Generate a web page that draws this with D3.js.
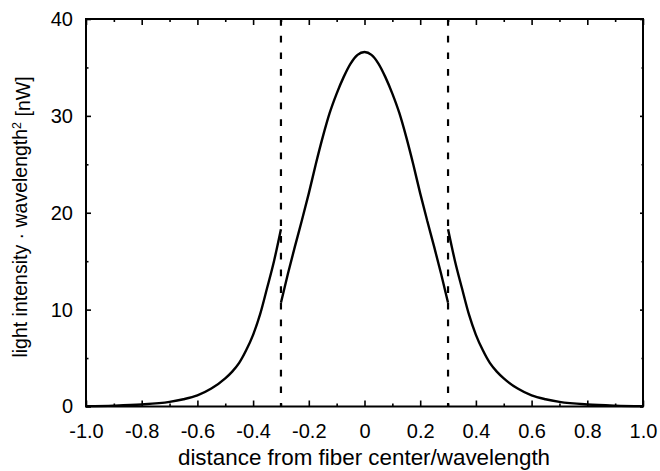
<!DOCTYPE html>
<meta charset="utf-8">
<script src="https://d3js.org/d3.v7.min.js"></script>
<style>
body { margin: 0; background: #fff; }
text { font-family: "Liberation Sans", Arial, sans-serif; fill: #000; }
</style>
<div id="chart"></div>
<script>
// values
var coreX = [-0.3, -0.275, -0.25, -0.225, -0.2, -0.175, -0.15, -0.125, -0.1, -0.075, -0.05, -0.025,
             0, 0.025, 0.05, 0.075, 0.1, 0.125, 0.15, 0.175, 0.2, 0.225, 0.25, 0.275, 0.3];
var coreY = [10.7, 13.7, 16.5, 19.2, 22.0, 25.0, 27.8, 30.3, 32.3, 34.0, 35.4, 36.3,
             36.6, 36.3, 35.4, 34.0, 32.3, 30.3, 27.8, 25.0, 22.0, 19.2, 16.5, 13.7, 10.7];
var cladLeftX = [-1.0, -0.9, -0.8, -0.7, -0.65, -0.6, -0.55, -0.5, -0.475, -0.45, -0.425, -0.4, -0.375, -0.35, -0.325, -0.3];
var cladLeftY = [0.04, 0.09, 0.21, 0.48, 0.75, 1.15, 1.85, 2.9, 3.6, 4.5, 5.8, 7.4, 9.5, 12.2, 15.0, 18.3];
var cladRightX = [0.3, 0.325, 0.35, 0.375, 0.4, 0.425, 0.45, 0.475, 0.5, 0.55, 0.6, 0.65, 0.7, 0.8, 0.9, 1.0];
var cladRightY = [18.3, 15.0, 12.2, 9.5, 7.4, 5.8, 4.5, 3.6, 2.9, 1.85, 1.15, 0.75, 0.48, 0.21, 0.09, 0.04];
var coreEdges = [-0.3, 0.3];
var xTickLabels = ["-1.0", "-0.8", "-0.6", "-0.4", "-0.2", "0", "0.2", "0.4", "0.6", "0.8", "1.0"];
var yTickLabels = ["0", "10", "20", "30", "40"];

var margin = {top: 19, right: 17, bottom: 64.5, left: 86},
    width = 660 - margin.left - margin.right,
    height = 471 - margin.top - margin.bottom;

var svg = d3.select("#chart")
  .append("svg")
    .attr("width", 660)
    .attr("height", 471)
  .append("g")
    .attr("transform", "translate(" + margin.left + "," + margin.top + ")");

var x = d3.scaleLinear().domain([-1, 1]).range([0, width]);
var y = d3.scaleLinear().domain([0, 40]).range([height, 0]);

var xMajor = d3.range(-1, 1.0001, 0.2);
var xMinor = d3.range(-0.9, 1, 0.2);
var yMajor = d3.range(0, 40.001, 10);
var yMinor = d3.range(5, 40, 10);

function tickAxis(axisFn, scale, values, size, labels) {
  return axisFn(scale)
    .tickValues(values)
    .tickSizeInner(size)
    .tickSizeOuter(0)
    .tickPadding(8)
    .tickFormat(labels ? function(d, i) { return labels[i]; } : "");
}

// bottom axis (ticks point inward)
var gb = svg.append("g").attr("transform", "translate(0," + height + ")");
gb.call(tickAxis(d3.axisBottom, x, xMajor, -6, xTickLabels));
gb.append("g").call(tickAxis(d3.axisBottom, x, xMinor, -3));
gb.selectAll("text").attr("y", 17).attr("dy", "0.71em").style("font-size", "20px");

// top axis
var gt = svg.append("g");
gt.call(tickAxis(d3.axisTop, x, xMajor, -6));
gt.append("g").call(tickAxis(d3.axisTop, x, xMinor, -3));

// left axis
var gl = svg.append("g");
gl.call(tickAxis(d3.axisLeft, y, yMajor, -5, yTickLabels));
gl.append("g").call(tickAxis(d3.axisLeft, y, yMinor, -2.5));
gl.selectAll("text").attr("x", -13).style("font-size", "20px");

// right axis
var gr = svg.append("g").attr("transform", "translate(" + width + ",0)");
gr.call(tickAxis(d3.axisRight, y, yMajor, -3));
gr.append("g").call(tickAxis(d3.axisRight, y, yMinor, -1.5));

svg.selectAll(".tick line").attr("stroke", "#000").attr("stroke-width", 1.6);
svg.selectAll(".domain").remove();

// frame
svg.append("rect")
  .attr("x", 0).attr("y", 0)
  .attr("width", width).attr("height", height)
  .attr("fill", "none")
  .attr("stroke", "#000")
  .attr("stroke-width", 2);

// core boundary
svg.selectAll(".edge")
  .data(coreEdges)
  .enter().append("line")
    .attr("class", "edge")
    .attr("x1", function(d) { return x(d); })
    .attr("x2", function(d) { return x(d); })
    .attr("y1", y(40))
    .attr("y2", y(0))
    .attr("stroke", "#000")
    .attr("stroke-width", 2.2)
    .attr("stroke-dasharray", "6.7,10");

var line = d3.line()
  .x(function(d) { return x(d[0]); })
  .y(function(d) { return y(d[1]); })
  .curve(d3.curveMonotoneX);

var pieces = [
  d3.zip(cladLeftX, cladLeftY),
  d3.zip(coreX, coreY),
  d3.zip(cladRightX, cladRightY)
];

svg.selectAll(".curve")
  .data(pieces)
  .enter().append("path")
    .attr("class", "curve")
    .attr("d", line)
    .attr("fill", "none")
    .attr("stroke", "#000")
    .attr("stroke-width", 2.4);

// axis titles
svg.append("text")
  .attr("x", width / 2 - 0.5)
  .attr("y", 465 - margin.top)
  .attr("text-anchor", "middle")
  .style("font-size", "22.4px")
  .text("distance from fiber center/wavelength");

var yt = svg.append("text")
  .attr("transform", "translate(" + (27 - margin.left) + "," + (217 - margin.top) + ") rotate(-90)")
  .attr("text-anchor", "middle")
  .style("font-size", "19.5px");
yt.append("tspan").text("light intensity \u00b7 wavelength");
yt.append("tspan").attr("dy", "-0.45em").style("font-size", "12.5px").text("2");
yt.append("tspan").attr("dy", "0.45em").text(" [nW]");
</script>
